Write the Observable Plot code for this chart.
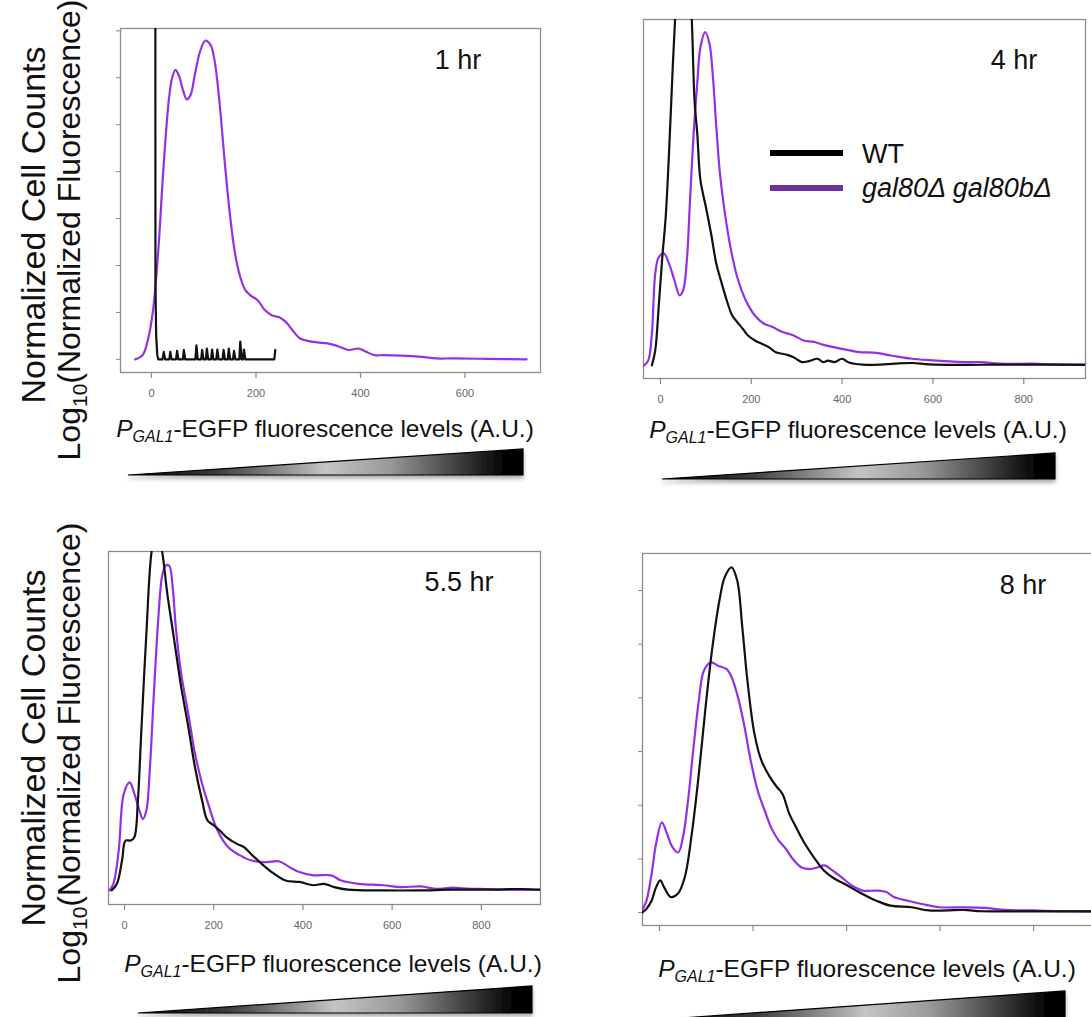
<!DOCTYPE html>
<html><head><meta charset="utf-8">
<script src="https://cdn.jsdelivr.net/npm/d3@7"></script>
<script src="https://cdn.jsdelivr.net/npm/@observablehq/plot@0.6"></script>
<style>
body{margin:0;background:#fff;}
#page{position:relative;width:1091px;height:1017px;overflow:hidden;background:#fff;font-family:"Liberation Sans",Arial,sans-serif;}
</style></head><body><div id="page"></div>
<script>
// ---------- data: [fluorescence (A.U.), log10 normalized count] ----------
const t1_mut = [[-31,0],[-17,0.09],[-7,0.41],[3,1.05],[13,2.32],[23,4.09],[33,5.5],[39.5,6.0],[46,6.17],[53,6.03],[61,5.71],[67.6,5.54],[75,5.64],[83,6.07],[93,6.56],[103,6.79],[113,6.7],[121,6.35],[130,5.5],[140,4.23],[150,3.1],[160,2.25],[170,1.75],[180,1.47],[190,1.36],[203,1.26],[217,1.05],[230,0.94],[243.5,0.9],[257,0.8],[270,0.62],[284,0.45],[297,0.4],[317,0.36],[337,0.34],[357,0.28],[377,0.2],[397,0.23],[411,0.16],[427,0.09],[444,0.09],[478,0.08],[511,0.06],[545,0.02],[578,0.02],[645,0.01],[718,0]];
const t1_wt = [[7.2,14],[7.6,1.6],[9,0.5],[11,0.1],[13,0],[21,0],[23.6,0.16],[26,0],[34,0],[36,0.16],[38.5,0],[47,0],[49,0.18],[51.5,0],[60,0],[62,0.2],[64.5,0],[84,0],[86,0.3],[88.5,0],[95,0],[97,0.2],[99.5,0],[104,0],[106,0.23],[108.5,0],[114,0],[116,0.21],[118.5,0],[124,0],[126,0.21],[128.5,0],[136,0],[138,0.2],[140.5,0],[146,0],[148,0.23],[150.5,0],[156,0],[158,0.18],[160.5,0],[168,0],[170,0.38],[172.5,0],[175,0],[177,0.21],[179.5,0],[235,0],[237,0.2]];
const t4_wt = [[-19,0],[-11.5,0.32],[-4,1.24],[4,2.3],[11.5,3.16],[19,4.57],[27,6.35],[32,7.34],[38,8.6],[50,9.5],[62,8.6],[69,7.34],[75,5.64],[81,4.93],[88,3.94],[100,3.37],[111.5,2.8],[123,2.16],[135,1.74],[146,1.38],[158,1.06],[169,0.92],[181,0.78],[192,0.64],[208,0.53],[223,0.46],[238,0.39],[254,0.28],[277,0.23],[292,0.18],[311,0.07],[327,0.09],[346,0.14],[358,0.07],[369,0.1],[384,0.07],[400,0.14],[415,0.06],[446,0.015],[484,0.015],[515,0.035],[554,0.05],[592,0.02],[669,0.01],[746,0.015],[823,0.015],[938,0.01]];
const t4_mut = [[-36,0],[-27,0.1],[-19,0.67],[-11.5,1.95],[-4,2.3],[7.7,2.38],[19,2.16],[31,1.8],[42,1.49],[50,1.6],[58,2.23],[65,3.5],[73,4.93],[81,6.0],[88,6.77],[98.5,7.09],[108,6.84],[115,6.2],[123,5.07],[131,4.08],[142,3.23],[154,2.52],[169,1.88],[188,1.38],[208,1.06],[227,0.89],[246,0.82],[269,0.71],[292,0.64],[315,0.53],[338,0.5],[361,0.43],[400,0.35],[438,0.28],[469,0.27],[508,0.21],[554,0.14],[592,0.11],[669,0.07],[707,0.07],[746,0.035],[823,0.035],[861,0.02],[938,0.015]];
const t55_mut = [[-34,0],[-25,0.14],[-13,0.85],[-1.6,2.06],[11.7,2.3],[22,2.06],[33.5,1.7],[41,1.52],[49,1.7],[57,2.62],[65,4.04],[76,5.82],[84,6.67],[92,6.91],[100,6.91],[108,6.45],[115,5.6],[127,4.61],[143,3.76],[158,2.91],[174,2.27],[190,1.77],[205,1.35],[221,1.06],[236,0.89],[260,0.74],[283,0.64],[314,0.6],[346,0.62],[369,0.5],[392,0.39],[424,0.32],[463,0.32],[486,0.21],[525,0.14],[580,0.11],[619,0.07],[665,0.085],[697,0.035],[736,0.057],[775,0.035],[814,0.03],[853,0.015],[933,0.01]];
const t55_wt = [[-29,0],[-17,0.14],[-5.5,0.64],[2.3,1.06],[14,1.06],[22,1.13],[30,1.91],[37.4,3.33],[49,5.46],[61,7.23],[72,7.7],[84,7.23],[96,6.31],[111.5,5.32],[127,4.33],[143,3.48],[158,2.62],[174,1.91],[186,1.49],[201,1.38],[213,1.28],[229,1.13],[252,0.99],[268,0.92],[283,0.78],[307,0.57],[330,0.39],[361,0.21],[392,0.18],[424,0.11],[447,0.14],[470,0.07],[501,0.015],[580,0],[658,0],[736,0.015],[814,0.015],[892,0.03],[934,0.015]];
const t8_wt = [[-37,0],[-28,0.07],[-17,0.22],[-7.5,0.47],[1.5,0.6],[10,0.47],[24,0.29],[39,0.35],[54,0.66],[69,1.47],[84,2.58],[98.5,3.83],[113,4.94],[128,5.81],[139.5,6.25],[154,6.43],[166,6.19],[177,5.32],[188,4.32],[203,3.33],[218,2.83],[236.5,2.52],[251,2.34],[263,2.21],[277.5,1.84],[292,1.59],[307,1.34],[330,1.03],[352,0.78],[374.5,0.63],[397,0.53],[427,0.38],[464,0.22],[494,0.13],[539,0.1],[576,0.04],[650.5,0.05],[688,0.025],[762,0.025],[837,0.025],[943,0.025]];
const t8_mut = [[-37,0.05],[-28,0.22],[-17,0.72],[-7.5,1.28],[5,1.68],[16,1.47],[27.6,1.22],[40,1.12],[50,1.4],[61,2.09],[72,3.02],[84,3.95],[95,4.51],[110,4.66],[125,4.6],[143,4.54],[154,4.39],[166,4.07],[180.5,3.52],[195,2.83],[210,2.27],[225,1.9],[240,1.56],[255,1.34],[270,1.19],[285,1.0],[304,0.84],[322,0.81],[337,0.84],[352,0.88],[371,0.78],[389,0.66],[412,0.5],[434,0.41],[464,0.41],[486,0.38],[501,0.29],[531,0.22],[561,0.16],[598,0.1],[650.5,0.1],[695,0.09],[740,0.05],[800,0.04],[874,0.025],[943,0.025]];

const xTicks = [0, 200, 400, 600, 800];
const panelLabels = ["1 hr", "4 hr", "5.5 hr", "8 hr"];
const seriesNames = ["WT", "gal80\u0394 gal80b\u0394"];
const BLACK = "#111111", PURPLE = "#9430e6";

// ---------- drawing ----------
const page = document.getElementById("page");
const FONT = '"Liberation Sans", Arial, Helvetica, sans-serif';
const M = {l: 14, r: 14, t: 14, b: 42};

function panel(p) {
  const fw = p.frame[2] - p.frame[0], fh = p.frame[3] - p.frame[1];
  const marks = [
    Plot.frame({stroke: "#8c8c8c", strokeWidth: 1.3}),
    Plot.axisX({ticks: p.xTicks, tickSize: 6, tickPadding: 11, tickFormat: p.xLabels ? (d => String(d)) : (() => ""),
      fontSize: 11, fill: "#666", stroke: "#888", strokeWidth: 1.2, label: null})
  ];
  if (p.yTicks) marks.push(Plot.axisY({ticks: p.yTicks, tickSize: 4, tickFormat: () => "", stroke: "#888", label: null}));
  for (const s of p.series) {
    marks.push(Plot.line(s.data, {x: d => d[0], y: d => d[1], stroke: s.color, strokeWidth: 2.2,
      curve: s.curve || "catmull-rom", clip: true}));
  }
  const svg = Plot.plot({
    width: fw + M.l + M.r, height: fh + M.t + M.b,
    marginLeft: M.l, marginRight: M.r, marginTop: M.t, marginBottom: M.b,
    x: {domain: p.xDomain},
    y: p.yTicks ? {domain: p.yDomain} : {domain: p.yDomain, axis: null},
    style: {fontFamily: FONT, background: "transparent", overflow: "visible"},
    marks
  });
  svg.style.position = "absolute";
  svg.style.left = (p.frame[0] - M.l) + "px";
  svg.style.top = (p.frame[1] - M.t) + "px";
  page.appendChild(svg);
}

panel({frame: [120, 28, 540, 372], xDomain: [-59.3, 744.5], yDomain: [-0.28, 7.05],
  xTicks: [0, 200, 400, 600], xLabels: true, yTicks: d3.range(0, 8),
  series: [{data: t1_mut, color: PURPLE}, {data: t1_wt, color: BLACK, curve: "linear"}]});
panel({frame: [643, 19, 1085, 378], xDomain: [-37.4, 936], yDomain: [-0.28, 7.36],
  xTicks, xLabels: true,
  series: [{data: t4_mut, color: PURPLE}, {data: t4_wt, color: BLACK}]});
panel({frame: [108, 551, 540, 904], xDomain: [-35.9, 932.7], yDomain: [-0.3, 7.21],
  xTicks, xLabels: true,
  series: [{data: t55_mut, color: PURPLE}, {data: t55_wt, color: BLACK}]});
panel({frame: [642, 553, 1100, 925], xDomain: [-36.4, 943], yDomain: [-0.24, 6.69],
  xTicks, xLabels: false, yTicks: d3.range(0, 7),
  series: [{data: t8_mut, color: PURPLE}, {data: t8_wt, color: BLACK}]});

// ---------- overlay: titles, labels, legend, intensity wedges ----------
const NS = "http://www.w3.org/2000/svg";
const ov = document.createElementNS(NS, "svg");
ov.setAttribute("width", 1091); ov.setAttribute("height", 1017);
ov.style.position = "absolute"; ov.style.left = "0"; ov.style.top = "0";
ov.style.fontFamily = FONT;
page.appendChild(ov);

let html = `<defs>
 <linearGradient id="wg" x1="0" x2="1" y1="0" y2="0">
  <stop offset="0" stop-color="#000"/><stop offset="0.22" stop-color="#3a3a3a"/>
  <stop offset="0.5" stop-color="#c4c4c4"/><stop offset="0.66" stop-color="#9a9a9a"/>
  <stop offset="0.84" stop-color="#3c3c3c"/><stop offset="0.96" stop-color="#000"/><stop offset="1" stop-color="#000"/>
 </linearGradient>
 <filter id="sh" x="-5%" y="-50%" width="110%" height="250%"><feDropShadow dx="0" dy="3" stdDeviation="2" flood-color="#000" flood-opacity="0.35"/></filter>
</defs>`;

// panel time labels
const tl = [[458, 69], [1014, 69], [459, 591], [1023, 594]];
panelLabels.forEach((t, i) => {
  html += `<text x="${tl[i][0]}" y="${tl[i][1]}" font-size="27" text-anchor="middle" fill="#111">${t}</text>`;
});

// x-axis titles
const xt = [[325, 437], [858, 438], [333, 972], [867, 977]];
for (const [x, y] of xt) {
  html += `<text x="${x}" y="${y}" font-size="24.5" text-anchor="middle" fill="#111"><tspan font-style="italic">P</tspan><tspan font-style="italic" font-size="16" dy="5">GAL1</tspan><tspan dy="-5">-EGFP fluorescence levels (A.U.)</tspan></text>`;
}

// y-axis titles
for (const cy of [225, 748]) {
  html += `<text transform="translate(45,${cy}) rotate(-90)" font-size="34" text-anchor="middle" fill="#111">Normalized Cell Counts</text>`;
  html += `<text transform="translate(80,${cy + 5}) rotate(-90)" font-size="32" text-anchor="middle" fill="#111">Log<tspan font-size="21" dy="7">10</tspan><tspan dy="-7">(Normalized Fluorescence)</tspan></text>`;
}

// wedges
const wedges = [[128, 523, 449, 475], [662, 1055, 453, 479], [138, 532, 986, 1013], [667, 1065, 991, 1019]];
for (const [x0, x1, yt, yb] of wedges) {
  html += `<polygon points="${x0},${yb} ${x1},${yt} ${x1},${yb}" fill="url(#wg)" stroke="#000" stroke-width="1.2" filter="url(#sh)"/>`;
}

// legend
html += `<line x1="770" x2="843" y1="153" y2="153" stroke="#000" stroke-width="6"/>`;
html += `<line x1="770" x2="843" y1="188" y2="188" stroke="#7030a0" stroke-width="6"/>`;
html += `<text x="862" y="163" font-size="27" fill="#111">${seriesNames[0]}</text>`;
html += `<text x="862" y="197" font-size="27" font-style="italic" fill="#111">${seriesNames[1]}</text>`;

ov.innerHTML = html;
</script></body></html>
